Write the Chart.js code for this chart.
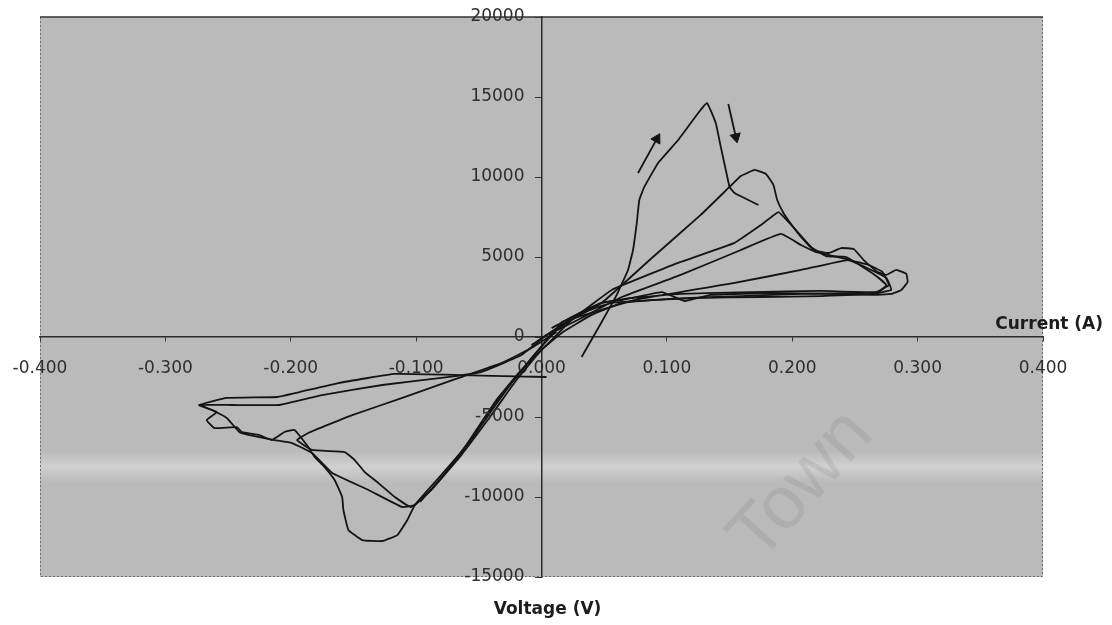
<!DOCTYPE html>
<html>
<head>
<meta charset="utf-8">
<title>Current vs voltage loops</title>
<script src="https://cdn.jsdelivr.net/npm/chart.js@4.4.1/dist/chart.umd.min.js"></script>
<style>
  html, body { margin: 0; padding: 0; background: #fff; }
  #wrap { width: 1112px; height: 625px; }
</style>
</head>
<body>
<div id="wrap"><canvas id="chart" width="1112" height="625"></canvas></div>
<script>
// axis ranges (current on the horizontal axis, voltage on the vertical one)
const currentRange = [-0.4, 0.4];
const currentStep = 0.1;
const voltageRange = [-15000, 20000];
const voltageStep = 5000;

// tall first sweep with the sharp peak
const tallCurrent = [0.032, 0.048, 0.060, 0.069, 0.073, 0.076, 0.078, 0.082, 0.093, 0.109, 0.125, 0.132, 0.139, 0.143, 0.147, 0.150, 0.154, 0.165, 0.173];
const tallVoltage = [-1250, 940, 2630, 4190, 5440, 7130, 8560, 9380, 10880, 12310, 14000, 14630, 13380, 11880, 10440, 9380, 9000, 8560, 8250];

// loop with the round hump and the deepest negative lobe
const humpCurrent = [-0.008, 0.016, 0.048, 0.088, 0.127, 0.150, 0.159, 0.170, 0.179, 0.185, 0.188, 0.193, 0.199, 0.207, 0.217, 0.229, 0.239, 0.249, 0.257, 0.268, 0.275, 0.283, 0.291, 0.292, 0.287, 0.279, 0.263, 0.231, 0.183, 0.135, 0.114, 0.096, 0.064, 0.048, 0.032, 0.016, 0.004, -0.012, -0.032, -0.056, -0.080, -0.101, -0.107, -0.115, -0.127, -0.143, -0.154, -0.158, -0.159, -0.165, -0.173, -0.181, -0.186, -0.197, -0.205, -0.215, -0.225, -0.239, -0.243, -0.261, -0.267, -0.259, -0.273, -0.251, -0.211, -0.193, -0.162, -0.117, -0.064, 0.004];
const humpVoltage = [-500, 750, 2130, 4940, 7630, 9380, 10060, 10440, 10190, 9500, 8560, 7750, 7060, 6250, 5440, 5250, 5560, 5500, 4810, 4060, 3880, 4190, 3940, 3440, 2940, 2690, 2630, 2690, 2750, 2630, 2250, 2810, 2310, 2130, 1560, 880, -190, -1750, -3630, -6440, -8630, -10500, -11440, -12380, -12750, -12690, -12060, -10810, -10000, -8940, -8130, -7500, -6880, -5810, -5940, -6440, -6130, -5940, -5630, -5690, -5190, -4690, -4250, -3810, -3750, -3440, -2880, -2310, -2380, -2500];

// loop peaking near 7800
const midCurrent = [0.008, 0.032, 0.056, 0.111, 0.154, 0.175, 0.189, 0.197, 0.205, 0.215, 0.227, 0.243, 0.255, 0.267, 0.275, 0.269, 0.255, 0.207, 0.159, 0.119, 0.088, 0.064, 0.040, 0.016, 0.000, -0.020, -0.040, -0.064, -0.088, -0.104, -0.117, -0.130, -0.141, -0.149, -0.157, -0.183, -0.195, -0.186, -0.151, -0.111, -0.066, -0.032, -0.008, 0.012];
const midVoltage = [560, 1560, 2940, 4690, 5880, 7000, 7810, 7190, 6500, 5630, 5060, 5000, 4440, 3810, 3250, 2810, 2750, 2690, 2560, 2440, 2310, 2130, 1380, 250, -810, -2690, -4880, -7380, -9560, -10630, -10000, -9130, -8440, -7690, -7190, -7060, -6440, -6000, -4880, -3810, -2560, -1630, -690, 310];

// loop peaking near 6400
const lowCurrent = [0.000, 0.032, 0.064, 0.111, 0.159, 0.191, 0.207, 0.219, 0.243, 0.263, 0.275, 0.279, 0.263, 0.223, 0.175, 0.127, 0.088, 0.056, 0.032, 0.012, -0.008, -0.028, -0.048, -0.068, -0.088, -0.101, -0.111, -0.138, -0.167, -0.183, -0.199, -0.213, -0.233, -0.241, -0.251, -0.263, -0.273, -0.247, -0.209, -0.175, -0.127, -0.080, -0.048, -0.016, 0.004];
const lowVoltage = [-60, 1190, 2500, 3880, 5440, 6440, 5750, 5310, 4880, 4190, 3690, 2940, 2690, 2560, 2500, 2440, 2310, 2130, 1500, 440, -1310, -3310, -5500, -7690, -9560, -10500, -10630, -9560, -8500, -7250, -6630, -6440, -6130, -5940, -5060, -4560, -4250, -4250, -4250, -3630, -3000, -2560, -2190, -1130, 130];

// flattest sweep
const flatCurrent = [0.016, 0.074, 0.154, 0.207, 0.244, 0.261, 0.272, 0.277, 0.267, 0.223, 0.167, 0.111, 0.072, 0.048, 0.024, 0.008, -0.016, -0.036, -0.060, -0.080, -0.097];
const flatVoltage = [940, 2310, 3380, 4190, 4810, 4500, 4060, 3250, 2810, 2880, 2810, 2690, 2440, 2130, 1060, -190, -2060, -3940, -6750, -8810, -10310];

// direction arrows beside the tall peak
const arrowUpCurrent = [0.077, 0.092];
const arrowUpVoltage = [10250, 12380];
const arrowDownCurrent = [0.149, 0.155];
const arrowDownVoltage = [14560, 12500];

function toPoints(xs, ys) {
  return xs.map((x, i) => ({ x, y: ys[i] }));
}

function traceSet(xs, ys) {
  return {
    data: toPoints(xs, ys),
    showLine: true,
    borderColor: "#141414",
    borderWidth: 1.8,
    pointRadius: 0,
    tension: 0.1,
    fill: false,
  };
}

function arrowSet(xs, ys, angle) {
  return {
    data: toPoints(xs, ys),
    showLine: true,
    borderColor: "#141414",
    backgroundColor: "#141414",
    borderWidth: 1.8,
    pointStyle: "triangle",
    pointRadius: [0, 6],
    rotation: [0, angle],
    pointBorderWidth: 1,
  };
}

const tickFont = { family: "DejaVu Sans", size: 17 };

const plotFrame = {
  id: "plotFrame",
  beforeDraw(chart) {
    const { ctx, chartArea: a, scales } = chart;
    ctx.save();
    ctx.fillStyle = "#bababa";
    ctx.fillRect(a.left, a.top, a.width, a.height);

    // pale scan streak across the lower half
    const y1 = scales.y.getPixelForValue(-7100);
    const y2 = scales.y.getPixelForValue(-9100);
    const g = ctx.createLinearGradient(0, y1, 0, y2);
    g.addColorStop(0, "rgba(255,255,255,0)");
    g.addColorStop(0.5, "rgba(255,255,255,0.32)");
    g.addColorStop(1, "rgba(255,255,255,0)");
    ctx.fillStyle = g;
    ctx.fillRect(a.left, y1, a.width, y2 - y1);

    // watermark
    ctx.translate(scales.x.getPixelForValue(0.208), scales.y.getPixelForValue(-9300));
    ctx.rotate(-48 * Math.PI / 180);
    ctx.font = '74px "Liberation Sans"';
    ctx.textAlign = "center";
    ctx.textBaseline = "middle";
    ctx.fillStyle = "rgba(95,95,95,0.13)";
    ctx.fillText("Town", 0, 0);
    ctx.setTransform(1, 0, 0, 1, 0, 0);

    // frame: dotted sides, solid top
    ctx.strokeStyle = "#6e6e6e";
    ctx.lineWidth = 1;
    ctx.setLineDash([2, 2]);
    ctx.beginPath();
    ctx.moveTo(a.left + 0.5, a.top);
    ctx.lineTo(a.left + 0.5, a.bottom - 0.5);
    ctx.lineTo(a.right - 0.5, a.bottom - 0.5);
    ctx.lineTo(a.right - 0.5, a.top);
    ctx.stroke();
    ctx.setLineDash([]);
    ctx.strokeStyle = "#333";
    ctx.lineWidth = 1.5;
    ctx.beginPath();
    ctx.moveTo(a.left, a.top);
    ctx.lineTo(a.right, a.top);
    ctx.stroke();
    ctx.restore();
  },
  afterDraw(chart) {
    const { ctx, scales } = chart;
    const axisX = scales.x.getPixelForValue(0);
    ctx.save();
    // voltage tick labels, left of the centred axis
    ctx.fillStyle = "#2e2e2e";
    ctx.font = `${tickFont.size}px "${tickFont.family}"`;
    ctx.textAlign = "right";
    ctx.textBaseline = "middle";
    scales.y.ticks.forEach((t) => {
      ctx.fillText(String(t.value), axisX - 17, scales.y.getPixelForValue(t.value));
    });
    // axis titles
    ctx.fillStyle = "#1c1c1c";
    ctx.font = 'bold 17px "DejaVu Sans"';
    ctx.textAlign = "right";
    ctx.fillText("Current (A)", 1103, scales.y.getPixelForValue(0) - 12);
    ctx.textAlign = "center";
    ctx.fillText("Voltage (V)", axisX + 6, 610);
    ctx.restore();
  },
};

new Chart(document.getElementById("chart"), {
  type: "scatter",
  data: {
    datasets: [
      traceSet(tallCurrent, tallVoltage),
      traceSet(humpCurrent, humpVoltage),
      traceSet(midCurrent, midVoltage),
      traceSet(lowCurrent, lowVoltage),
      traceSet(flatCurrent, flatVoltage),
      arrowSet(arrowUpCurrent, arrowUpVoltage, 29),
      arrowSet(arrowDownCurrent, arrowDownVoltage, 167),
    ],
  },
  options: {
    responsive: false,
    animation: false,
    layout: { padding: { left: 40, right: 69, top: 17, bottom: 48 } },
    plugins: {
      legend: { display: false },
      tooltip: { enabled: false },
    },
    scales: {
      x: {
        type: "linear",
        min: currentRange[0],
        max: currentRange[1],
        position: { y: 0 },
        afterFit(scale) {
          // end labels may hang past the plot edge, as in the original
          scale.paddingLeft = 0;
          scale.paddingRight = 0;
        },
        ticks: {
          stepSize: currentStep,
          color: "#2e2e2e",
          font: tickFont,
          padding: 17,
          maxRotation: 0,
          callback: (v) => (Math.abs(v) < 1e-9 ? 0 : v).toFixed(3),
        },
        grid: { drawOnChartArea: false, tickLength: 4, color: "#333" },
        border: { display: true, color: "#2a2a2a", width: 1.5 },
      },
      y: {
        type: "linear",
        min: voltageRange[0],
        max: voltageRange[1],
        position: { x: 0 },
        ticks: {
          stepSize: voltageStep,
          display: false,
        },
        grid: { drawOnChartArea: false, tickLength: 6, color: "#333" },
        border: { display: true, color: "#2a2a2a", width: 1.5 },
      },
    },
  },
  plugins: [plotFrame],
});
</script>
</body>
</html>
